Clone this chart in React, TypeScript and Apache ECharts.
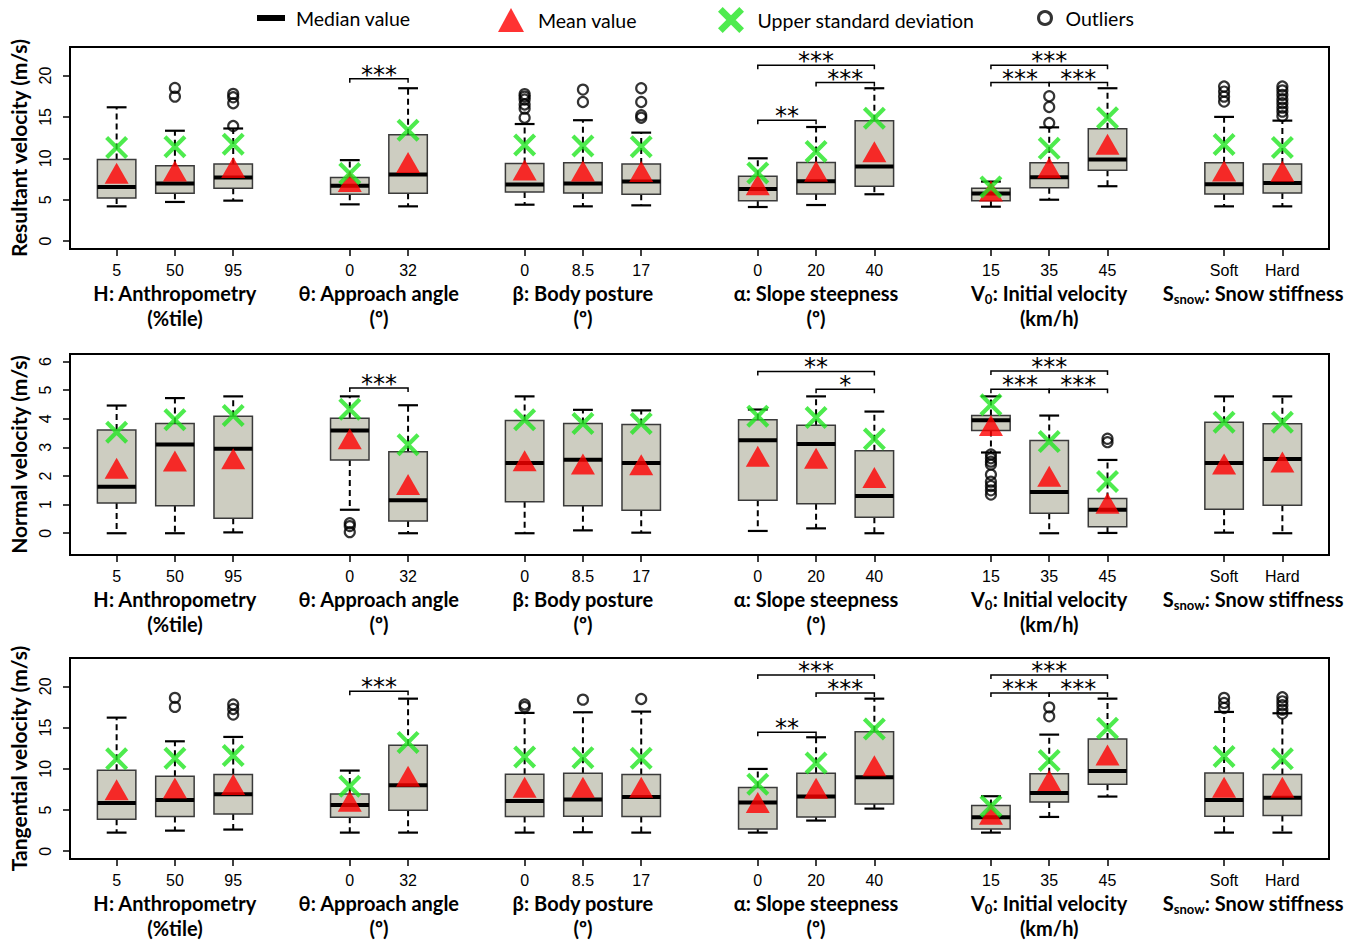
import React, { useEffect, useRef } from "react";
import * as echarts from "echarts";

// ---------- categories / labels ----------
const slots = [1, 2, 3, 5, 6, 8, 9, 10, 12, 13, 14, 16, 17, 18, 20, 21];
const tickLabels = ["5", "50", "95", "0", "32", "0", "8.5", "17", "0", "20", "40", "15", "35", "45", "Soft", "Hard"];
const groupCenters = [2, 5.5, 9, 13, 17, 20.5];
const groupMain = ["H", "θ", "β", "α", "V", "S"];
const groupSub = ["", "", "", "", "0", "snow"];
const groupRest = [": Anthropometry", ": Approach angle", ": Body posture", ": Slope steepness", ": Initial velocity", ": Snow stiffness"];
const groupUnits = ["(%tile)", "(º)", "(º)", "(º)", "(km/h)", ""];
const yTitles = ["Resultant velocity (m/s)", "Normal velocity (m/s)", "Tangential velocity (m/s)"];
const legendNames = ["Median value", "Mean value", "Upper standard deviation", "Outliers"];

// ---------- Resultant velocity ----------
const r_low = [4.2, 4.73, 4.89, 4.44, 4.2, 4.4, 4.2, 4.32, 4.12, 4.36, 5.66, 4.16, 5.0, 6.63, 4.2, 4.2];
const r_q1 = [5.21, 5.78, 6.38, 5.66, 5.78, 5.94, 5.82, 5.66, 4.89, 5.7, 6.63, 4.89, 6.46, 8.57, 5.7, 5.82];
const r_med = [6.55, 6.95, 7.68, 6.7, 8.04, 6.83, 6.95, 7.19, 6.3, 7.23, 9.0, 5.74, 7.72, 9.86, 6.87, 7.03];
const r_q3 = [9.86, 9.09, 9.3, 7.68, 12.85, 9.37, 9.45, 9.3, 7.84, 9.5, 14.55, 6.38, 9.45, 13.58, 9.45, 9.3];
const r_high = [16.16, 13.33, 13.6, 9.78, 18.46, 14.14, 14.6, 13.1, 10.0, 13.78, 18.46, 7.19, 13.74, 18.46, 15.0, 14.55];
const r_mean = [8.2, 8.48, 8.9, 7.2, 9.5, 8.6, 8.48, 8.4, 6.8, 8.44, 10.8, 6.06, 8.85, 11.7, 8.48, 8.44];
const r_sd = [11.3, 11.4, 11.7, 8.16, 13.4, 11.6, 11.5, 11.4, 8.24, 10.83, 14.83, 6.55, 11.2, 14.9, 11.68, 11.3];
const r_out = [
  [2, 18.5], [2, 17.45], [3, 17.78], [3, 17.37], [3, 16.65], [3, 13.9],
  [8, 17.75], [8, 17.45], [8, 17.1], [8, 16.5], [8, 16.0], [8, 14.9],
  [9, 18.3], [9, 16.8], [10, 18.46], [10, 16.8], [10, 15.2], [10, 14.9],
  [17, 17.5], [17, 16.2], [17, 14.26],
  [20, 18.67], [20, 18.06], [20, 17.45], [20, 16.85],
  [21, 18.67], [21, 18.2], [21, 17.66], [21, 17.13], [21, 16.65], [21, 16.12], [21, 15.64], [21, 15.1],
];
const r_sig = [[5, 6, 19.6], [12, 13, 14.6], [13, 14, 19.15], [12, 14, 21.25], [16, 17, 19.15], [17, 18, 19.15], [16, 18, 21.25]];
const r_sigLab = ["***", "**", "***", "***", "***", "***", "***"];

// ---------- Normal velocity ----------
const n_low = [0, 0, 0.03, 0.82, 0, 0, 0.1, 0.02, 0.08, 0.17, 0, 2.82, 0, 0.01, 0.02, 0];
const n_q1 = [1.06, 0.96, 0.52, 2.56, 0.43, 1.1, 0.96, 0.8, 1.15, 1.03, 0.56, 3.59, 0.7, 0.23, 0.84, 0.98];
const n_med = [1.62, 3.1, 2.95, 3.59, 1.15, 2.45, 2.57, 2.45, 3.25, 3.12, 1.3, 3.95, 1.44, 0.82, 2.45, 2.59];
const n_q3 = [3.61, 3.83, 4.09, 4.02, 2.85, 3.94, 3.83, 3.8, 3.96, 3.77, 2.88, 4.11, 3.24, 1.21, 3.88, 3.82];
const n_high = [4.46, 4.72, 4.78, 4.78, 4.47, 4.78, 4.31, 4.29, 4.32, 4.78, 4.25, 4.78, 4.11, 2.56, 4.78, 4.78];
const n_mean = [2.27, 2.52, 2.6, 3.3, 1.7, 2.53, 2.42, 2.39, 2.69, 2.62, 1.95, 3.76, 1.99, 1.05, 2.42, 2.49];
const n_sd = [3.53, 3.96, 4.11, 4.33, 3.09, 3.96, 3.83, 3.83, 4.09, 4.04, 3.29, 4.49, 3.2, 1.81, 3.88, 3.88];
const n_out = [
  [5, 0.35], [5, 0.25], [5, 0.04],
  [16, 2.75], [16, 2.62], [16, 2.5], [16, 2.4], [16, 2.05], [16, 1.8], [16, 1.65], [16, 1.5], [16, 1.35],
  [18, 3.3], [18, 3.18],
];
const n_sig = [[5, 6, 5.07], [12, 14, 5.65], [13, 14, 5.03], [16, 17, 5.03], [17, 18, 5.03], [16, 18, 5.67]];
const n_sigLab = ["***", "**", "*", "***", "***", "***"];

// ---------- Tangential velocity ----------
const t_low = [2.26, 2.5, 2.63, 2.26, 2.26, 2.26, 2.3, 2.26, 2.26, 3.72, 5.17, 2.26, 4.16, 6.63, 2.26, 2.26];
const t_q1 = [3.88, 4.2, 4.53, 4.12, 4.97, 4.2, 4.24, 4.2, 2.7, 4.16, 5.74, 2.7, 5.98, 8.12, 4.24, 4.32];
const t_med = [5.86, 6.22, 6.91, 5.62, 8.0, 6.1, 6.26, 6.59, 5.9, 6.63, 8.97, 4.12, 7.07, 9.74, 6.22, 6.5];
const t_q3 = [9.82, 9.09, 9.29, 6.95, 12.85, 9.33, 9.45, 9.29, 7.72, 9.45, 14.5, 5.54, 9.41, 13.6, 9.49, 9.29];
const t_high = [16.2, 13.33, 13.86, 9.78, 18.5, 16.77, 16.85, 16.93, 9.98, 13.82, 18.5, 6.67, 14.14, 18.5, 16.89, 16.73];
const t_mean = [7.47, 7.68, 8.08, 6.06, 9.1, 7.76, 7.76, 7.76, 5.9, 7.64, 10.38, 4.5, 8.57, 11.68, 7.76, 7.76];
const t_sd = [11.2, 11.27, 11.6, 7.88, 13.2, 11.43, 11.35, 11.27, 8.12, 10.7, 14.83, 5.45, 11.0, 14.9, 11.5, 11.2];
const t_out = [
  [2, 18.6], [2, 17.5], [3, 17.8], [3, 17.25], [3, 16.57],
  [8, 17.8], [8, 17.5], [9, 18.38], [10, 18.46],
  [17, 17.45], [17, 16.36],
  [20, 18.6], [20, 17.98], [20, 17.37],
  [21, 18.67], [21, 18.18], [21, 17.7], [21, 17.17], [21, 16.69],
];
const t_sig = [[5, 6, 19.4], [12, 13, 14.42], [13, 14, 19.2], [12, 14, 21.37], [16, 17, 19.2], [17, 18, 19.2], [16, 18, 21.37]];
const t_sigLab = ["***", "**", "***", "***", "***", "***", "***"];

const yTicks = [[0, 5, 10, 15, 20], [0, 1, 2, 3, 4, 5, 6], [0, 5, 10, 15, 20]];
const yMin = [-0.95, -0.76, -0.94];
const yMax = [23.44, 6.26, 23.43];

const panels = [
  { low: r_low, q1: r_q1, med: r_med, q3: r_q3, high: r_high, mean: r_mean, sd: r_sd, out: r_out, sig: r_sig, sigLab: r_sigLab },
  { low: n_low, q1: n_q1, med: n_med, q3: n_q3, high: n_high, mean: n_mean, sd: n_sd, out: n_out, sig: n_sig, sigLab: n_sigLab },
  { low: t_low, q1: t_q1, med: t_med, q3: t_q3, high: t_high, mean: t_mean, sd: t_sd, out: t_out, sig: t_sig, sigLab: t_sigLab },
];

const gridTops = [47, 354, 658];
const gridHeights = [202, 201, 201];

const X_PATH = "path://M0,1.3L1.3,0L10,8.7L8.7,10ZM8.7,0L10,1.3L1.3,10L0,8.7Z";
const X_PATH_LEG = "path://M0,1.8L1.8,0L10,8.2L8.2,10ZM8.2,0L10,1.8L1.8,10L0,8.2Z";
const GREEN = "#22e622";
const BOXFILL = "#cdcdc1";

function renderBox(params: any, api: any) {
  const x = api.value(0);
  const lo = api.coord([x, api.value(1)]);
  const q1 = api.coord([x, api.value(2)]);
  const md = api.coord([x, api.value(3)]);
  const q3 = api.coord([x, api.value(4)]);
  const hi = api.coord([x, api.value(5)]);
  const hw = api.size([0.33, 0])[0];
  const cw = api.size([0.17, 0])[0];
  const cx = lo[0];
  const dash = { stroke: "#000", lineWidth: 2, lineDash: [6, 4] };
  const solid = { stroke: "#000", lineWidth: 2.2 };
  return {
    type: "group",
    children: [
      { type: "line", shape: { x1: cx, y1: q3[1], x2: cx, y2: hi[1] }, style: dash },
      { type: "line", shape: { x1: cx, y1: q1[1], x2: cx, y2: lo[1] }, style: dash },
      { type: "line", shape: { x1: cx - cw, y1: hi[1], x2: cx + cw, y2: hi[1] }, style: solid },
      { type: "line", shape: { x1: cx - cw, y1: lo[1], x2: cx + cw, y2: lo[1] }, style: solid },
      {
        type: "rect",
        shape: { x: cx - hw, y: q3[1], width: hw * 2, height: q1[1] - q3[1] },
        style: { fill: BOXFILL, stroke: "#3a3a3a", lineWidth: 1.5 },
      },
      { type: "line", shape: { x1: cx - hw, y1: md[1], x2: cx + hw, y2: md[1] }, style: { stroke: "#000", lineWidth: 4 } },
    ],
  };
}

function makeSigRender(labels: string[]) {
  return function (params: any, api: any) {
    const y = api.value(2);
    const p1 = api.coord([api.value(0), y]);
    const p2 = api.coord([api.value(1), y]);
    return {
      type: "group",
      children: [
        {
          type: "polyline",
          shape: { points: [[p1[0], p1[1] + 4], [p1[0], p1[1]], [p2[0], p2[1]], [p2[0], p2[1] + 4]] },
          style: { stroke: "#000", lineWidth: 1.5, fill: "none" },
        },
        {
          type: "text",
          x: (p1[0] + p2[0]) / 2,
          y: p1[1] - 4,
          style: {
            text: labels[params.dataIndex],
            fontFamily: "DejaVu Sans",
            fontSize: 24,
            fill: "#000",
            textAlign: "center",
            textVerticalAlign: "middle",
          },
        },
      ],
    };
  };
}

function groupTitle(i: number) {
  let s = "{b|" + groupMain[i] + "}";
  if (groupSub[i]) s += "{s|" + groupSub[i] + "}";
  s += "{b|" + groupRest[i] + "}";
  if (groupUnits[i]) s += "\n{b|" + groupUnits[i] + "}";
  return s;
}

function buildOption() {
  const grid: any[] = [];
  const xAxis: any[] = [];
  const yAxis: any[] = [];
  const series: any[] = [];
  panels.forEach((p, g) => {
    grid.push({
      left: 69, top: gridTops[g], width: 1260, height: gridHeights[g],
      show: true, borderColor: "#000", borderWidth: 2, backgroundColor: "transparent",
    });
    xAxis.push({
      type: "value", gridIndex: g, min: 0.2, max: 21.8, position: "bottom",
      axisLine: { show: false, onZero: false }, splitLine: { show: false },
      axisTick: { show: true, customValues: slots, length: 7, lineStyle: { color: "#000", width: 1.5 } },
      axisLabel: {
        customValues: slots, margin: 13, color: "#000", fontSize: 16, fontFamily: "Liberation Sans",
        formatter: (v: number) => tickLabels[slots.indexOf(v)],
      },
    });
    xAxis.push({
      type: "value", gridIndex: g, min: 0.2, max: 21.8, position: "bottom",
      axisLine: { show: false, onZero: false }, splitLine: { show: false }, axisTick: { show: false },
      axisLabel: {
        customValues: groupCenters, margin: 31,
        formatter: (v: number) => groupTitle(groupCenters.indexOf(v)),
        rich: {
          b: { fontFamily: "Lato", fontWeight: "bold", fontSize: 20, lineHeight: 25, color: "#000" },
          s: { fontFamily: "Lato", fontWeight: "bold", fontSize: 13, lineHeight: 16, color: "#000", verticalAlign: "bottom" },
        },
      },
    });
    yAxis.push({
      type: "value", gridIndex: g, min: yMin[g], max: yMax[g],
      axisLine: { show: false, onZero: false }, splitLine: { show: false },
      axisTick: { show: true, customValues: yTicks[g], length: 7, lineStyle: { color: "#000", width: 1.5 } },
      axisLabel: { customValues: yTicks[g], rotate: 90, margin: 17, color: "#000", fontSize: 16, fontFamily: "Liberation Sans" },
      name: yTitles[g], nameLocation: "middle", nameGap: 41,
      nameTextStyle: { fontFamily: "Lato", fontWeight: "bold", fontSize: 21, color: "#000" },
    });
    const xi = g * 2;
    series.push({
      type: "custom", name: legendNames[0], xAxisIndex: xi, yAxisIndex: g, z: 2,
      itemStyle: { color: "#000" },
      renderItem: renderBox,
      data: slots.map((s, i) => [s, p.low[i], p.q1[i], p.med[i], p.q3[i], p.high[i]]),
    });
    series.push({
      type: "scatter", name: legendNames[3], xAxisIndex: xi, yAxisIndex: g, z: 3,
      symbol: "circle", symbolSize: 10,
      itemStyle: { color: "rgba(0,0,0,0)", borderColor: "#000", borderWidth: 2.2 },
      data: p.out,
    });
    series.push({
      type: "scatter", name: legendNames[1], xAxisIndex: xi, yAxisIndex: g, z: 4,
      symbol: "triangle", symbolSize: [24, 21],
      itemStyle: { color: "#ff0000" },
      data: slots.map((s, i) => [s, p.mean[i]]),
    });
    series.push({
      type: "scatter", name: legendNames[2], xAxisIndex: xi, yAxisIndex: g, z: 5,
      symbol: X_PATH, symbolSize: 23,
      itemStyle: { color: GREEN },
      data: slots.map((s, i) => [s, p.sd[i]]),
    });
    series.push({
      type: "custom", name: "sig" + g, xAxisIndex: xi, yAxisIndex: g, z: 6, silent: true,
      renderItem: makeSigRender(p.sigLab),
      data: p.sig,
    });
  });

  const legTxt = { fontFamily: "Lato", fontSize: 19.5, color: "#000" };
  const legend = [
    {
      left: 257, top: 8, padding: 0, itemWidth: 28, itemHeight: 6, selectedMode: false,
      data: [{ name: legendNames[0], icon: "rect", itemStyle: { color: "#000" } }],
      textStyle: { ...legTxt, padding: [0, 0, 0, 6] },
    },
    {
      left: 498, top: 8, padding: 0, itemWidth: 26, itemHeight: 24, selectedMode: false,
      data: [{ name: legendNames[1], icon: "triangle", itemStyle: { color: "#ff0000" } }],
      textStyle: { ...legTxt, padding: [0, 0, 0, 9] },
    },
    {
      left: 718, top: 7, padding: 0, itemWidth: 27, itemHeight: 26, selectedMode: false,
      data: [{ name: legendNames[2], icon: X_PATH_LEG, itemStyle: { color: GREEN } }],
      textStyle: { ...legTxt, padding: [0, 0, 0, 8] },
    },
    {
      left: 1037, top: 8, padding: 0, itemWidth: 13, itemHeight: 13, selectedMode: false,
      data: [{ name: legendNames[3], icon: "circle", itemStyle: { color: "#fff", borderColor: "#000", borderWidth: 3 } }],
      textStyle: { ...legTxt, padding: [0, 0, 0, 9] },
    },
  ];

  return { animation: false, backgroundColor: "#fff", grid, xAxis, yAxis, series, legend };
}

export default function App() {
  const ref = useRef<HTMLDivElement>(null);
  useEffect(() => {
    if (!ref.current) return;
    const chart = echarts.init(ref.current, undefined, { renderer: "svg" });
    chart.setOption(buildOption() as any);
    return () => chart.dispose();
  }, []);
  return <div ref={ref} style={{ position: "absolute", left: 0, top: 0, width: 1351, height: 947 }} />;
}
